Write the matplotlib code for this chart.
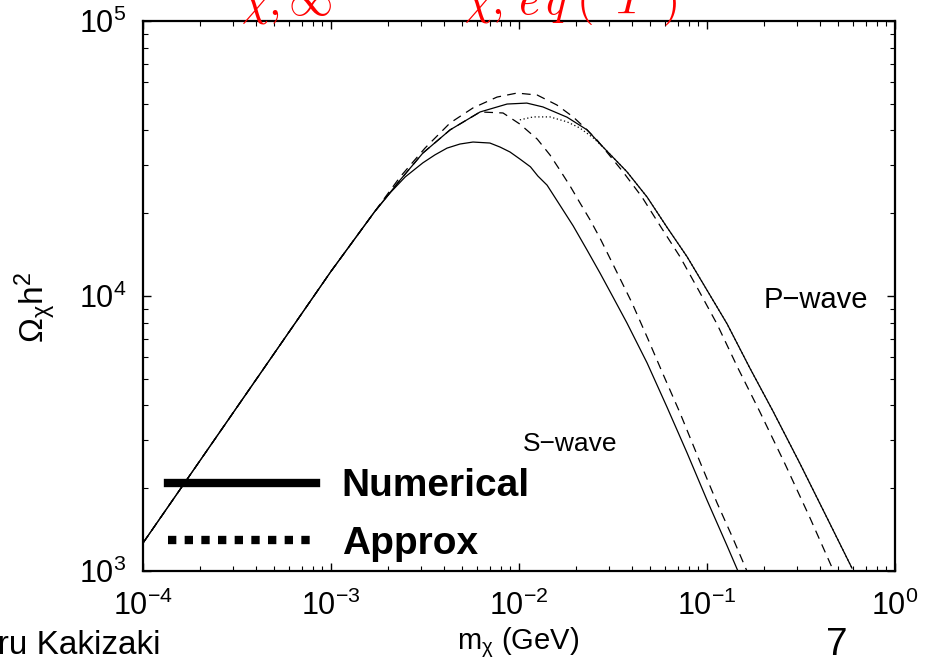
import numpy as np
import matplotlib
matplotlib.use("Agg")
import matplotlib.pyplot as plt
from matplotlib.lines import Line2D
from matplotlib.ticker import NullFormatter

# values (m_chi in GeV, Omega h^2)

# S-wave, numerical (solid)
m_s_num = [1.0e-4, 1.0e-3, 1.7e-3, 2.06e-3, 2.48e-3, 3.08e-3, 3.57e-3, 4.14e-3, 4.85e-3,
           5.69e-3, 7.0e-3, 7.93e-3, 8.95e-3, 1.01e-2, 1.15e-2, 1.26e-2, 1.41e-2,
           1.65e-2, 1.94e-2, 2.30e-2, 2.70e-2, 3.16e-2, 3.75e-2, 4.80e-2, 6.12e-2,
           7.83e-2, 0.100, 0.128, 0.146]
om_s_num = [1265, 12300, 20200, 23700, 27100, 30500, 32600, 34500, 35700,
            36300, 36000, 34800, 33400, 31500, 29500, 27300, 25300,
            21400, 18000, 14700, 12100, 9920, 7980, 5710, 3950,
            2690, 1810, 1233, 1000]

# S-wave, approx (dashed)
m_s_app = [1.0e-4, 1.0e-3, 1.7e-3, 2.33e-3, 3.08e-3, 4.30e-3, 6.21e-3,
           8.22e-3, 1.01e-2, 1.25e-2, 1.46e-2, 1.65e-2, 1.87e-2, 2.11e-2, 2.39e-2,
           2.70e-2, 3.24e-2, 3.99e-2, 4.85e-2, 5.77e-2, 7.18e-2, 9.18e-2, 0.113,
           0.137, 0.163]
om_s_app = [1265, 12300, 20200, 26400, 33100, 40200, 46700,
            46300, 42200, 37200, 32600, 28700, 25100, 21800, 18900,
            16200, 12600, 9440, 6980, 5290, 3760, 2490, 1770,
            1320, 1000]

# P-wave, numerical (solid)
m_p_num = [1.0e-4, 1.0e-3, 1.7e-3, 2.33e-3, 3.08e-3, 4.30e-3, 6.21e-3,
           8.64e-3, 1.10e-2, 1.34e-2, 1.80e-2, 2.30e-2, 2.80e-2, 3.75e-2, 4.80e-2,
           6.12e-2, 7.83e-2, 0.100, 0.128, 0.169, 0.224, 0.313, 0.435, 0.590]
om_p_num = [1265, 12300, 20200, 26400, 33100, 40200, 46700,
            49900, 50300, 48700, 44700, 40200, 34800, 28300, 22900,
            17800, 13900, 10500, 7910, 5470, 3820, 2450, 1560, 1025]

# P-wave, approx (dashed)
m_p_app = [1.0e-4, 1.0e-3, 1.7e-3, 2.33e-3, 3.16e-3, 4.30e-3, 5.69e-3,
           7.64e-3, 9.75e-3, 1.25e-2, 1.59e-2, 1.94e-2, 2.30e-2, 2.60e-2, 3.57e-2,
           4.51e-2, 5.69e-2, 7.18e-2, 9.02e-2, 0.113, 0.146, 0.190, 0.260,
           0.353, 0.468]
om_p_app = [1265, 12300, 20200, 27100, 34500, 42600, 48300,
            52900, 54700, 53800, 49500, 44800, 40200, 36900, 28300,
            22900, 17800, 13900, 10500, 7910, 5470, 3820, 2450,
            1560, 1010]

# dotted piece
m_dot = [1.01e-2, 1.19e-2, 1.46e-2, 1.80e-2, 2.11e-2, 2.48e-2, 2.80e-2, 3.75e-2,
         4.80e-2, 6.12e-2, 7.83e-2, 0.100, 0.128, 0.169, 0.224, 0.313, 0.435, 0.590]
om_dot = [43700, 44800, 44800, 43000, 40800, 37600, 34800, 28300,
          22900, 17800, 13900, 10500, 7910, 5470, 3820, 2450, 1560, 1025]

legend_labels = ["Numerical", "Approx"]

plt.rcParams['font.family'] = ['Liberation Sans', 'DejaVu Sans']
plt.rcParams['mathtext.fontset'] = 'custom'
plt.rcParams['mathtext.rm'] = 'Liberation Sans'
plt.rcParams['mathtext.it'] = 'Liberation Sans:italic'

fig = plt.figure(figsize=(9.27, 6.67), dpi=100)
ax = fig.add_axes([0.1543, 0.1439, 0.8112, 0.8246])

dash = (0, (7, 5))
ax.loglog(m_s_num, om_s_num, color='k', lw=0.9)
ax.loglog(m_p_num, om_p_num, color='k', lw=0.9)
ax.loglog(m_s_app, om_s_app, color='k', lw=0.9, ls=dash)
ax.loglog(m_p_app, om_p_app, color='k', lw=0.9, ls=dash)
ax.loglog(m_dot, om_dot, color='k', lw=0.9, ls=(0, (1, 2)))

ax.set_xlim(1e-4, 1)
ax.set_ylim(1e3, 1e5)
ax.yaxis.set_minor_formatter(NullFormatter())
ax.xaxis.set_minor_formatter(NullFormatter())

for s in ax.spines.values():
    s.set_linewidth(1.6)
ax.tick_params(which='both', direction='in', top=True, right=True, labelsize=22)
ax.tick_params(which='major', length=6, width=1)
ax.tick_params(which='minor', length=3.5, width=0.8)
ax.tick_params(axis='x', pad=14)
ax.tick_params(axis='y', pad=12)

ax.set_xlabel(r"$\mathrm{m_{\chi}}$ (GeV)", fontsize=21)
ax.xaxis.set_label_coords(0.499, -0.098)
ax.set_ylabel(r"$\mathrm{\Omega_{\chi}h^2}$", fontsize=24)
ax.yaxis.set_label_coords(-0.113, 0.48)

ax.text(0.568, 0.231, "S\u2212wave", transform=ax.transAxes, fontsize=19,
        ha='center', va='center')
ax.text(0.895, 0.493, "P\u2212wave", transform=ax.transAxes, fontsize=21,
        ha='center', va='center')

handles = [Line2D([], [], color='k', lw=6),
           Line2D([], [], color='k', lw=6, ls=(0, (1, 1)))]
ax.legend(handles, legend_labels, loc='lower left', bbox_to_anchor=(0.008, -0.019),
          frameon=False, handlelength=3.8, handletextpad=0.65, labelspacing=0.56,
          borderpad=0, prop={'weight': 'bold', 'size': 28})

# slide leftovers: red formula cut at the top, footer
fig.text(241 / 927, 1 - 14 / 667, r"$\chi,\infty$", color='red', fontsize=32,
         va='baseline', ha='left', math_fontfamily='cm')
fig.text(464 / 927, 1 - 14 / 667, r"$\chi,\,e\,q\;(\;\;T\;\;)$", color='red', fontsize=32,
         va='baseline', ha='left', math_fontfamily='cm')
fig.text(160 / 927, 1 - 645 / 667, "Mitsuru Kakizaki", fontsize=24, ha='right',
         va='center')
fig.text(837 / 927, 1 - 645 / 667, "7", fontsize=28, ha='center', va='center')

fig.savefig("out.png", dpi=100)
